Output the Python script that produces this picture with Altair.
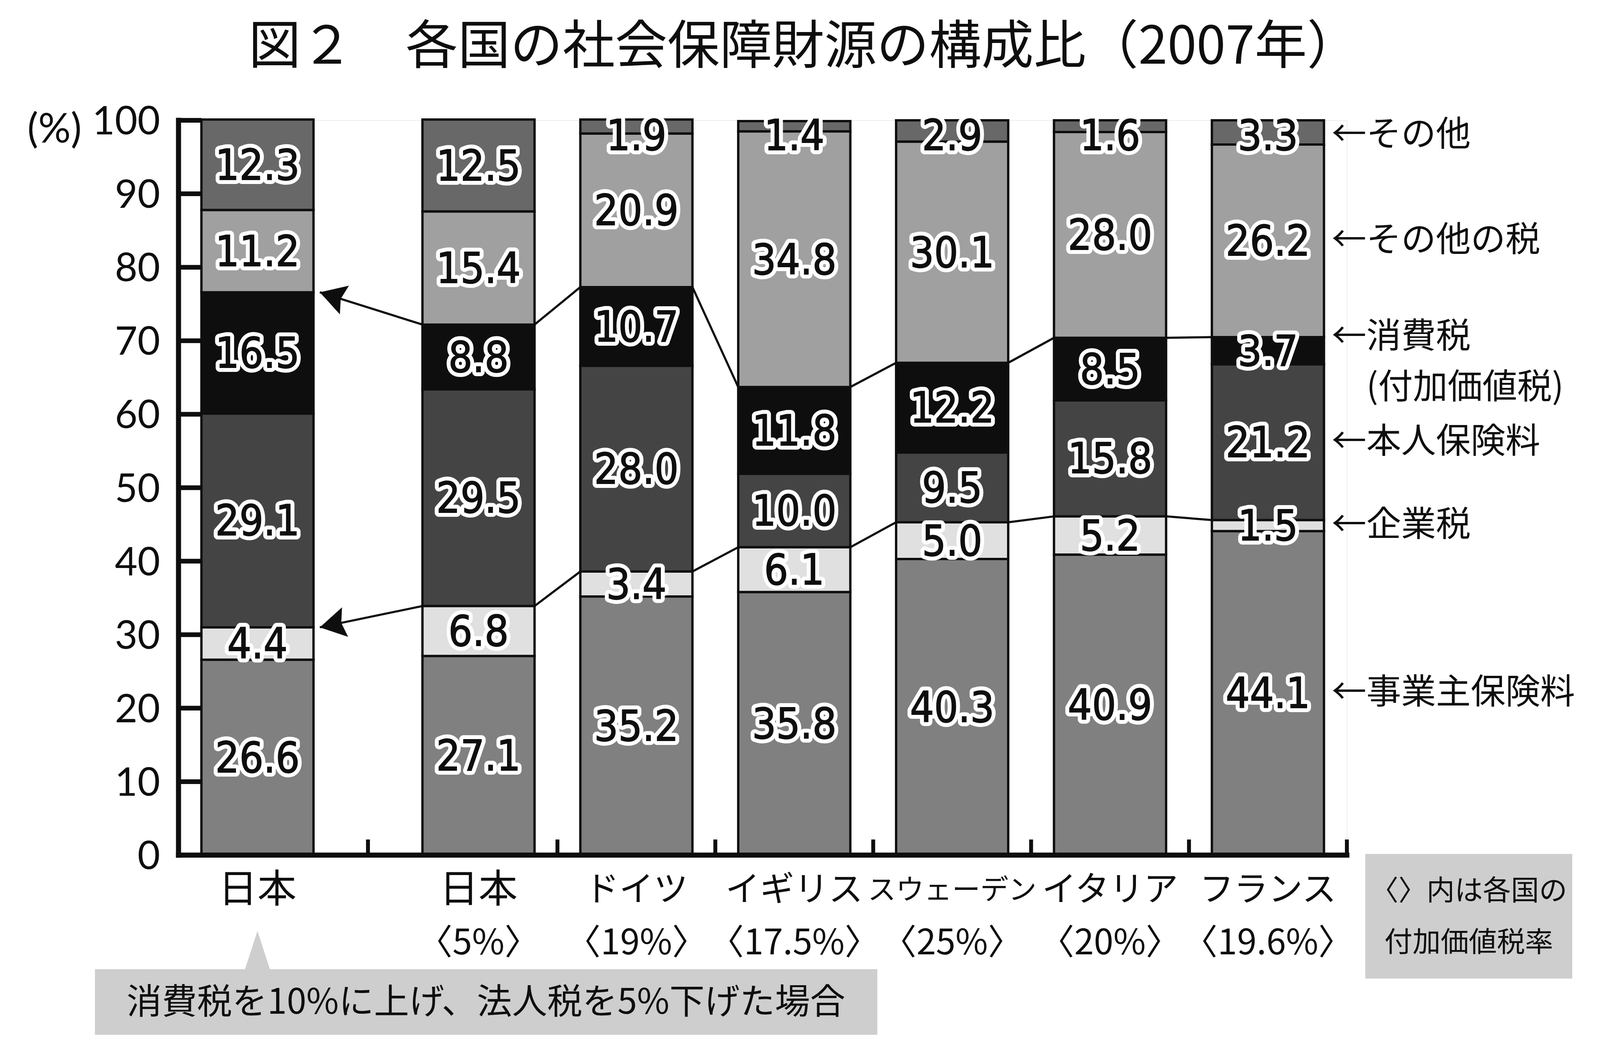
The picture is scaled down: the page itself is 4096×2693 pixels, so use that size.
import math
import altair as alt
import pandas as pd

# ---------------- data ----------------
countries = ["日本", "日本", "ドイツ", "イギリス", "スウェーデン", "イタリア", "フランス"]
vat_rates = ["", "〈5%〉", "〈19%〉", "〈17.5%〉", "〈25%〉", "〈20%〉", "〈19.6%〉"]
segments = ["事業主保険料", "企業税", "本人保険料", "消費税", "その他の税", "その他"]
employer_premium = [26.6, 27.1, 35.2, 35.8, 40.3, 40.9, 44.1]
corporate_tax = [4.4, 6.8, 3.4, 6.1, 5.0, 5.2, 1.5]
personal_premium = [29.1, 29.5, 28.0, 10.0, 9.5, 15.8, 21.2]
consumption_tax = [16.5, 8.8, 10.7, 11.8, 12.2, 8.5, 3.7]
other_taxes = [11.2, 15.4, 20.9, 34.8, 30.1, 28.0, 26.2]
others = [12.3, 12.5, 1.9, 1.4, 2.9, 1.6, 3.3]
y_ticks = [0, 10, 20, 30, 40, 50, 60, 70, 80, 90, 100]
right_labels = ["←事業主保険料", "←企業税", "←本人保険料", "←消費税", "←その他の税", "←その他"]
vat_sub = "(付加価値税)"
title_text = "図２　各国の社会保障財源の構成比（2007年）"
note_left = "消費税を10%に上げ、法人税を5%下げた場合"
note_right_1 = "〈〉内は各国の"
note_right_2 = "付加価値税率"

# ---------------- layout / style ----------------
W, H = 2991, 1881
GAP = 0.4          # extra space after the first (simulated) bar, in band units
HALF = 0.355       # half bar width, in band units
N = len(countries)
X_MAX = N + GAP
PX_X = W / X_MAX
PX_Y = H / 100.0
ARROW_GAP = 0.04
BLACK = "#0e0e0e"
seg_colors = ["#808080", "#e0e0e0", "#444444", "#0e0e0e", "#a0a0a0", "#686868"]
CJK = "Noto Sans CJK JP"
NUM_FONT = "Liberation Sans Narrow, DejaVu Sans Condensed, Liberation Sans, sans-serif"
RATE_FONT = "Liberation Sans Narrow, Noto Sans CJK JP"

slots = [i + 0.5 + (GAP if i > 0 else 0) for i in range(N)]

series = [employer_premium, corporate_tax, personal_premium, consumption_tax, other_taxes, others]
rows = []
tops = {s: [] for s in segments}
mids = {s: [] for s in segments}
for i in range(N):
    base = 0.0
    for s, vals in zip(segments, series):
        v = vals[i]
        y0, y1 = base, base + v
        m = min((y0 + y1) / 2, 98.0)
        rows.append(dict(cid=i, slot=slots[i], x0=slots[i] - HALF, x1=slots[i] + HALF,
                         segment=s, value=v, y0=y0, y1=y1, ymid=m, label=f"{v:.1f}"))
        tops[s].append(y1)
        mids[s].append(m)
        base = y1
bars = pd.DataFrame(rows)

conn, heads = [], []
for s in ["企業税", "消費税"]:
    lv = tops[s]
    for i in range(N - 1):
        xa = slots[i] + HALF + (ARROW_GAP if i == 0 else 0)
        conn.append(dict(xa=xa, ya=lv[i], xb=slots[i + 1] - HALF, yb=lv[i + 1]))
    tipx = slots[0] + HALF + ARROW_GAP
    dx = (slots[1] - HALF - tipx) * PX_X
    dscreen = (lv[1] - lv[0]) * PX_Y
    ang = math.degrees(math.atan2(-dscreen, dx)) % 360
    heads.append(dict(x=tipx, y=lv[0], angle=ang))
conn_df = pd.DataFrame(conn)
head_df = pd.DataFrame(heads)

last = N - 1
right_rows = []
for s, lab in zip(segments, right_labels):
    yy = tops[s][last] if s == "消費税" else mids[s][last]
    right_rows.append(dict(label=lab, y=yy))
right_df = pd.DataFrame(right_rows)
sub_df = pd.DataFrame([dict(label=vat_sub, y=tops["消費税"][last])])

bounds = [(slots[i] + slots[i + 1]) / 2 for i in range(N - 1)] + [X_MAX]
xl_df = pd.DataFrame({"slot": slots, "name": countries, "rate": vat_rates})
tick_len = (slots[0] - HALF) * PX_X
yt_df = pd.DataFrame({"v": y_ticks, "lab": [str(v) for v in y_ticks]})
ydom_df = pd.DataFrame({"lo": [min(y_ticks)], "hi": [max(y_ticks)]})
xdom_df = pd.DataFrame({"a": [0.0], "b": [X_MAX]})

xs = alt.Scale(domain=[0, X_MAX], nice=False, zero=False)
ys = alt.Scale(domain=[0, 100], nice=False, zero=True)
one = pd.DataFrame({"k": [0]})


def X(f):
    return alt.X(f, scale=xs, axis=None)


def Y(f):
    return alt.Y(f, scale=ys, axis=None)


bar_layer = alt.Chart(bars).mark_rect(stroke=BLACK, strokeWidth=6).encode(
    x=X("x0:Q"), x2="x1:Q", y=Y("y0:Q"), y2="y1:Q",
    color=alt.Color("segment:N", scale=alt.Scale(domain=segments, range=seg_colors), legend=None),
)

# axes (domain lines, inward ticks, labels)
ydom_layer = alt.Chart(ydom_df).mark_rule(color=BLACK, strokeWidth=13, strokeCap="square").encode(
    x=alt.value(0), y=Y("lo:Q"), y2="hi:Q")
xdom_layer = alt.Chart(xdom_df).mark_rule(color=BLACK, strokeWidth=13, strokeCap="square").encode(
    x=X("a:Q"), x2="b:Q", y=alt.value(H))
ytick_layer = alt.Chart(yt_df[yt_df.v > 0]).mark_rule(color=BLACK, strokeWidth=12).encode(
    x=alt.value(0), x2=alt.value(tick_len), y=Y("v:Q"))
ylab_layer = alt.Chart(yt_df).mark_text(font="Lato", fontSize=100, align="right", baseline="middle",
                                        color=BLACK, dy=6).encode(
    x=alt.value(-47), y=Y("v:Q"), text="lab:N")
xtick_layer = alt.Chart(pd.DataFrame({"b": bounds})).mark_rule(color=BLACK, strokeWidth=10).encode(
    x=X("b:Q"), y=alt.value(H), y2=alt.value(H - 40))

conn_layer = alt.Chart(conn_df).mark_rule(color=BLACK, strokeWidth=5.5).encode(
    x=X("xa:Q"), x2="xb:Q", y=Y("ya:Q"), y2="yb:Q")

ARROW_PATH = "M0,0 L2,-1.17 L1.7,0 L2,1.17 Z"
head_layer = alt.Chart(head_df).mark_point(shape=ARROW_PATH, filled=True, size=4356, color=BLACK,
                                           opacity=1, strokeWidth=0).encode(
    x=X("x:Q"), y=Y("y:Q"), angle=alt.Angle("angle:Q", scale=None))

halo = alt.Chart(bars).mark_text(font=NUM_FONT, fontSize=108, fill="white", stroke="white",
                                 strokeWidth=22, strokeJoin="round", dy=6).encode(
    x=X("slot:Q"), y=Y("ymid:Q"), text="label:N")
vals = alt.Chart(bars).mark_text(font=NUM_FONT, fontSize=108, fill=BLACK, stroke=BLACK,
                                 strokeWidth=2, dy=6).encode(
    x=X("slot:Q"), y=Y("ymid:Q"), text="label:N")

name_layer = alt.Chart(xl_df).transform_calculate(
    fs="length(datum.name) > 4 ? 72 : (length(datum.name) > 2 ? 88 : 100)").mark_text(
    font=CJK, baseline="middle", color=BLACK).encode(
    x=X("slot:Q"), y=alt.value(H + 91), text="name:N", size=alt.Size("fs:Q", scale=None))
rate_layer = alt.Chart(xl_df).mark_text(font=RATE_FONT, fontSize=90, baseline="middle", color=BLACK).encode(
    x=X("slot:Q"), y=alt.value(H + 227), text="rate:N")

right_layer = alt.Chart(right_df).mark_text(font=CJK, fontSize=89, align="left", baseline="middle",
                                            color=BLACK).encode(
    x=alt.value(2952), y=Y("y:Q"), text="label:N")
sub_layer = alt.Chart(sub_df).mark_text(font=CJK, fontSize=89, align="left", baseline="middle",
                                        color=BLACK, dy=130).encode(
    x=alt.value(2952 + 89), y=Y("y:Q"), text="label:N")

title_layer = alt.Chart(pd.DataFrame({"t": [title_text]})).mark_text(
    font=CJK, fontSize=134, fontWeight="normal", align="center", baseline="middle", color=BLACK).encode(
    x=alt.value(1601), y=alt.value(-185), text="t:N")

pct_layer = alt.Chart(pd.DataFrame({"t": ["(%)"]})).mark_text(
    font="Lato", fontSize=104, align="right", baseline="middle", color=BLACK).encode(
    x=alt.value(-248), y=alt.value(26), text="t:N")

left_box = alt.Chart(one).mark_rect(color="#cecece").encode(
    x=alt.value(-214), x2=alt.value(1789), y=alt.value(2173), y2=alt.value(2341))
tri = alt.Chart(pd.DataFrame({"slot": [slots[0]]})).mark_point(
    shape="M0,-1 L0.65,1 L-0.65,1 Z", filled=True, size=10000, color="#cecece", opacity=1,
    strokeWidth=0).encode(x=X("slot:Q"), y=alt.value(2125))
left_text = alt.Chart(pd.DataFrame({"t": [note_left]})).mark_text(
    font=CJK, fontSize=90, align="center", baseline="middle", color=BLACK).encode(
    x=alt.value(787), y=alt.value(2260), text="t:N")

right_box = alt.Chart(one).mark_rect(color="#cecece").encode(
    x=alt.value(3038), x2=alt.value(3568), y=alt.value(1878), y2=alt.value(2197))
right_text1 = alt.Chart(pd.DataFrame({"t": [note_right_1]})).mark_text(
    font=CJK, fontSize=72, align="center", baseline="middle", color=BLACK).encode(
    x=alt.value(3303), y=alt.value(H + 93), text="t:N")
right_text2 = alt.Chart(pd.DataFrame({"t": [note_right_2]})).mark_text(
    font=CJK, fontSize=72, align="center", baseline="middle", color=BLACK).encode(
    x=alt.value(3303), y=alt.value(H + 225), text="t:N")

chart = alt.layer(
    bar_layer, ytick_layer, conn_layer, head_layer, xtick_layer, ydom_layer, xdom_layer, ylab_layer,
    halo, vals, name_layer, rate_layer, right_layer, sub_layer, title_layer, pct_layer,
    left_box, tri, left_text, right_box, right_text1, right_text2,
).properties(
    width=W, height=H,
    padding={"left": 449, "top": 300, "right": 640, "bottom": 496},
    autosize=alt.AutoSizeParams(type="none"),
).configure_view(stroke=None).configure(background="white")

chart.save("out.html", embed_options={"renderer": "svg", "actions": False})
